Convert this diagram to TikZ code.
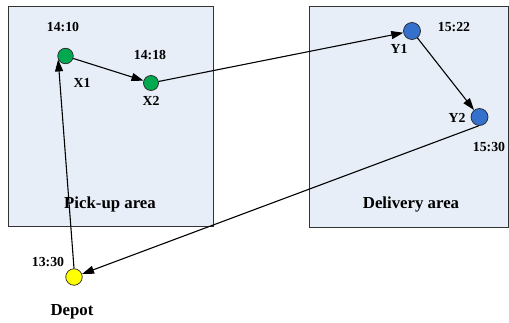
\documentclass[tikz,border=0pt]{standalone}
\usepackage{fontspec}
\setmainfont{Liberation Serif}
\usetikzlibrary{arrows.meta}
\definecolor{areafill}{RGB}{232,238,248}
\definecolor{pgreen}{RGB}{0,168,80}
\definecolor{dblue}{RGB}{52,112,204}
\definecolor{dyellow}{RGB}{255,255,0}
\tikzset{
  area/.style={draw=black!80, fill=areafill, line width=0.8pt},
  pt/.style={circle, draw=black!85, line width=0.7pt, inner sep=0pt, minimum size=15.5pt},
  lbl/.style={font=\fontsize{13.8}{15}\selectfont\bfseries, inner sep=0pt},
  biglbl/.style={font=\fontsize{16.8}{18}\selectfont\bfseries, inner sep=0pt},
  route/.style={line width=1.1pt, -{Triangle[length=12pt,width=8pt]}}
}
\begin{document}
\begin{tikzpicture}[x=1pt,y=1pt]
\useasboundingbox (0,0) rectangle (509,322);
\node[area, minimum width=205pt, minimum height=220pt, anchor=south west, inner sep=0pt] (pickup) at (8,95) {};
\node[area, minimum width=199pt, minimum height=221pt, anchor=south west, inner sep=0pt] (delivery) at (309,94) {};
\node[biglbl] (pickuplbl) at (110,118) {Pick-up area};
\node[biglbl] (deliverylbl) at (411,118) {Delivery area};
\node[pt, fill=pgreen] (x1) at (65.5,266) {};
\node[pt, fill=pgreen, minimum size=15pt] (x2) at (151,239) {};
\node[pt, fill=dblue, minimum size=17pt] (y1) at (412,291) {};
\node[pt, fill=dblue, minimum size=17pt] (y2) at (479.5,205) {};
\node[pt, fill=dyellow, minimum size=16.5pt] (depot) at (74,45) {};
\node[lbl] (t1410) at (63,295) {14:10};
\node[lbl] (t1418) at (150,267) {14:18};
\node[lbl] (lx1) at (82,239) {X1};
\node[lbl] (lx2) at (151,221) {X2};
\node[lbl] (ly1) at (399,273) {Y1};
\node[lbl] (t1522) at (454,295) {15:22};
\node[lbl] (ly2) at (457,204) {Y2};
\node[lbl] (t1530) at (489,175) {15:30};
\node[lbl] (t1330) at (48,60) {13:30};
\node[biglbl] (depotlbl) at (72,10) {Depot};
\draw[route] (depot.north) -- (x1.205);
\draw[route] (x1) -- (x2);
\draw[route] (x2) -- (y1);
\draw[route] (y1) -- (y2);
\draw[route] (y2.265) -- (depot);
\end{tikzpicture}
\end{document}
